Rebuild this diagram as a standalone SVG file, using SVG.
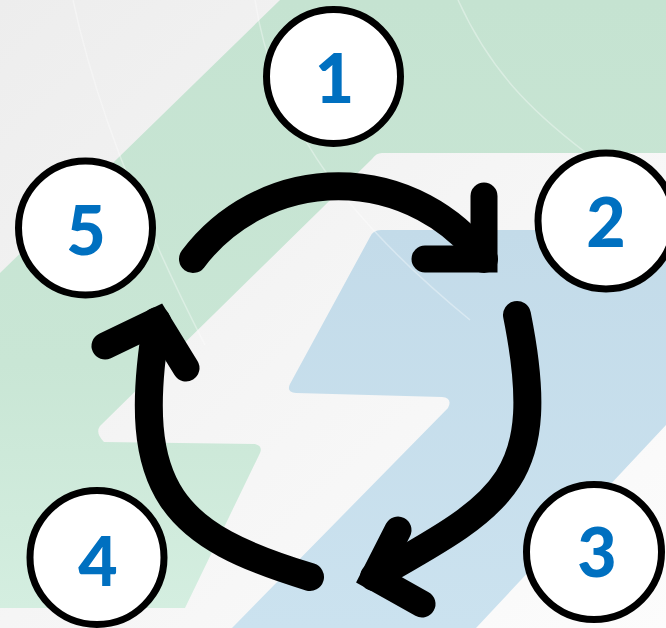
<svg xmlns="http://www.w3.org/2000/svg" width="666" height="628" viewBox="0 0 666 628">
  <defs>
    <linearGradient id="bg" x1="0" y1="0" x2="1" y2="1">
      <stop offset="0" stop-color="#ededed"/>
      <stop offset="0.5" stop-color="#f5f5f5"/>
      <stop offset="1" stop-color="#fcfcfc"/>
    </linearGradient>
    <linearGradient id="gr" x1="0" y1="0" x2="0" y2="1">
      <stop offset="0" stop-color="#c5e3d1"/>
      <stop offset="0.6" stop-color="#c9e6d5"/>
      <stop offset="1" stop-color="#d4eee0"/>
    </linearGradient>
    <linearGradient id="bl" x1="0" y1="0" x2="0" y2="1">
      <stop offset="0" stop-color="#c3dbe9"/>
      <stop offset="1" stop-color="#cbe2ef"/>
    </linearGradient>
    <style>
      .node circle { fill: #ffffff; stroke: #000000; stroke-width: 7; }
      .node text { font-family: Lato, "Open Sans", "Liberation Sans", sans-serif; font-weight: 900; font-size: 68px; fill: #0070c0; text-anchor: middle; }
      .shaft { fill: none; stroke: #000000; stroke-width: 28; stroke-linecap: round; }
      .head { fill: none; stroke: #000000; stroke-width: 27; stroke-linecap: round; stroke-linejoin: miter; }
      .streak { fill: none; stroke: #ffffff; stroke-width: 1.5; stroke-opacity: 0.35; }
    </style>
  </defs>

  <g id="background">
    <rect x="0" y="0" width="666" height="628" fill="url(#bg)"/>
    <path fill="url(#gr)" d="M280,0 L666,0 L666,153 L382,153 Q376,153 372,159 L100,426 Q95,433 104,442 L255,444 Q263,446 260,453 L185,608 L0,608 L0,273 Z"/>
    <path fill="url(#bl)" d="M381,230 L666,230 L666,425 L476,628 L232,628 L448,408 Q453,398 442,397 L296,393 Q286,392 290,384 L370,237 Q373,230 381,230 Z"/>
    <path class="streak" d="M73,0 Q105,150 205,345"/>
    <path class="streak" d="M255,0 C272,110 330,205 470,320"/>
    <path class="streak" d="M458,0 C490,70 530,110 585,152"/>
  </g>

  <g id="connectors">
    <g id="arrow-1-2">
      <path class="shaft" d="M193,259 A182,182 0 0 1 484,259"/>
      <path class="head" d="M484,196 L484,259 L425,259"/>
    </g>
    <g id="arrow-2-3">
      <path class="shaft" d="M517,315 C550,480 505,503 374,577"/>
      <path class="head" d="M398,530 L374,577 L422,604"/>
    </g>
    <g id="arrow-3-5">
      <path class="shaft" d="M310,577 C175,536 128,493 157,321"/>
      <path class="head" d="M105,346 L157,321 L186,368"/>
    </g>
  </g>

  <g id="node-1" class="node">
    <circle cx="333.5" cy="76.5" r="67"/>
    <text x="334.5" y="103">1</text>
  </g>
  <g id="node-2" class="node">
    <circle cx="606" cy="221" r="68"/>
    <text x="606" y="247">2</text>
  </g>
  <g id="node-3" class="node">
    <circle cx="594" cy="552" r="67.5"/>
    <text x="597" y="577">3</text>
  </g>
  <g id="node-4" class="node">
    <circle cx="97" cy="557.5" r="67"/>
    <text x="98" y="586">4</text>
  </g>
  <g id="node-5" class="node">
    <circle cx="85.5" cy="228" r="67"/>
    <text x="86" y="255">5</text>
  </g>
</svg>
